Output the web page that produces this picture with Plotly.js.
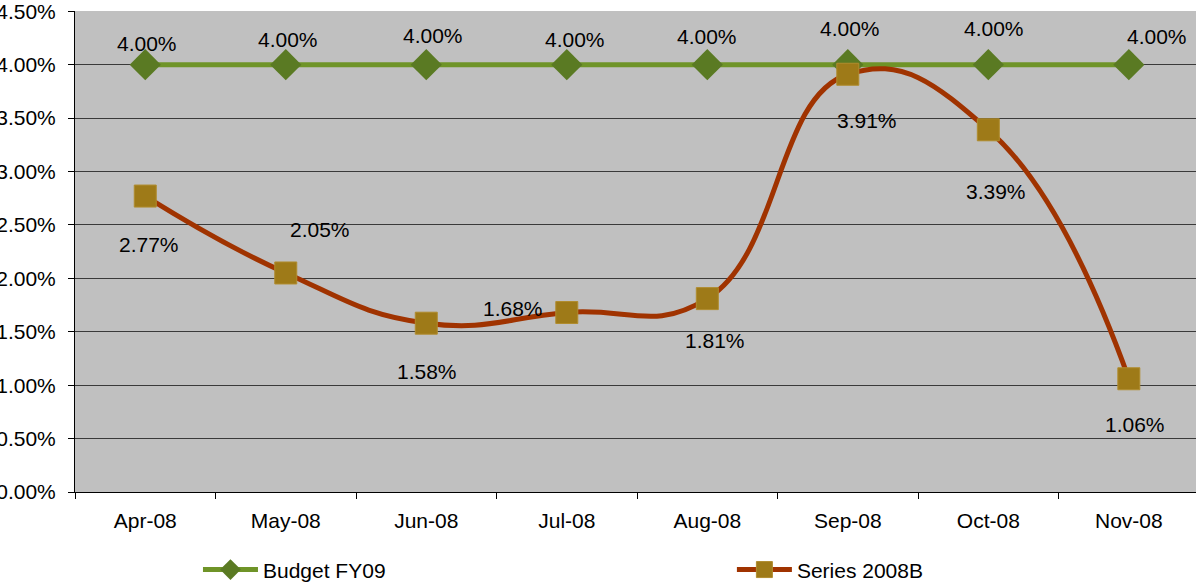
<!DOCTYPE html>
<html>
<head>
<meta charset="utf-8">
<script src="https://cdn.plot.ly/plotly-3.0.1.min.js"></script>
<style>html,body{margin:0;padding:0;background:#fff;}#chart{width:1196px;height:588px;}</style>
</head>
<body>
<div id="chart"></div>
<script>
// ---- data ----
var months = ["Apr-08", "May-08", "Jun-08", "Jul-08", "Aug-08", "Sep-08", "Oct-08", "Nov-08"];
var budgetFY09 = [4.00, 4.00, 4.00, 4.00, 4.00, 4.00, 4.00, 4.00];
var series2008B = [2.77, 2.05, 1.58, 1.68, 1.81, 3.91, 3.39, 1.06];
var yTickVals = [0, 0.5, 1, 1.5, 2, 2.5, 3, 3.5, 4, 4.5];
var yTickText = yTickVals.map(function (v) { return v.toFixed(2) + "%"; });

// ---- label placement (styling: pixel offsets from each point) ----
var budgetLabelDX = [2, 2, 7, 8, 0, 2, 6, 28];
var budgetLabelDY = [21, 25, 29, 25, 28, 36, 36, 28];
var seriesLabelDX = [4, 34, 1, -54, 8, 19, 8, 6];
var seriesLabelDY = [-48, 43, -48, 4, -42, -46, -62, -46];

var FONT = "Liberation Sans, Arial, sans-serif";

var traces = [
  {
    type: "scatter", mode: "lines+markers", name: "Budget FY09",
    x: months, y: budgetFY09, legend: "legend",
    line: {color: "#6F9428", width: 5},
    marker: {symbol: "diamond", size: 24, color: "#5A7A23", line: {width: 0}},
    hoverinfo: "none"
  },
  {
    type: "scatter", mode: "lines+markers", name: "Series 2008B",
    x: months, y: series2008B, legend: "legend2",
    line: {color: "#A03300", width: 5, shape: "spline", smoothing: 1.3},
    marker: {symbol: "square", size: 22, color: "#9E7A18", line: {color: "#B08C2E", width: 1}},
    hoverinfo: "none"
  }
];

var annotations = [];
months.forEach(function (m, i) {
  annotations.push({
    x: m, y: budgetFY09[i], xref: "x", yref: "y",
    text: budgetFY09[i].toFixed(2) + "%", showarrow: false,
    xshift: budgetLabelDX[i], yshift: budgetLabelDY[i],
    font: {family: FONT, size: 21, color: "#000"}
  });
  annotations.push({
    x: m, y: series2008B[i], xref: "x", yref: "y",
    text: series2008B[i].toFixed(2) + "%", showarrow: false,
    xshift: seriesLabelDX[i], yshift: seriesLabelDY[i],
    font: {family: FONT, size: 21, color: "#000"}
  });
});

function legendBox(xpos) {
  return {
    orientation: "h", x: xpos, xanchor: "left", y: -0.162, yanchor: "middle",
    itemwidth: 55,
    font: {family: FONT, size: 21, color: "#000"},
    bgcolor: "rgba(0,0,0,0)"
  };
}

var layout = {
  width: 1196, height: 588,
  margin: {l: 75, r: 0, t: 11, b: 96, pad: 0, autoexpand: false},
  paper_bgcolor: "#ffffff",
  plot_bgcolor: "#C0C0C0",
  font: {family: FONT, size: 21, color: "#000"},
  showlegend: true,
  legend: legendBox(0.1097),
  legend2: legendBox(0.586),
  xaxis: {
    type: "category", categoryorder: "array", categoryarray: months,
    range: [-0.5, 7.478],
    showgrid: false, zeroline: false,
    showline: true, linecolor: "#000", linewidth: 1,
    ticks: "outside", tickson: "boundaries", ticklen: 6, tickcolor: "#000", tickwidth: 1,
    ticklabelstandoff: 10,
    tickfont: {family: FONT, size: 21, color: "#000"},
    automargin: false,
    fixedrange: true
  },
  yaxis: {
    range: [0, 4.502], tickmode: "array", tickvals: yTickVals, ticktext: yTickText,
    showgrid: true, gridcolor: "#3a3a3a", gridwidth: 1,
    zeroline: false,
    showline: true, linecolor: "#000", linewidth: 1,
    ticks: "outside", ticklen: 6, tickcolor: "#000", tickwidth: 1,
    ticklabelstandoff: 8, ticklabeloverflow: "allow",
    tickfont: {family: FONT, size: 21, color: "#000"},
    automargin: false,
    fixedrange: true
  },
  annotations: annotations
};

Plotly.newPlot("chart", traces, layout, {staticPlot: true, displayModeBar: false});
</script>
</body>
</html>
